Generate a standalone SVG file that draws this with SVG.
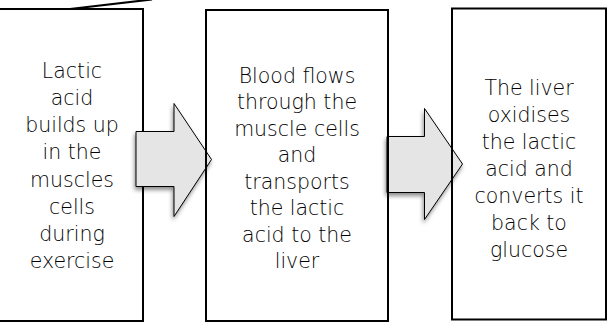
<svg xmlns="http://www.w3.org/2000/svg" width="614" height="324" viewBox="0 0 614 324">
<style>
.box{fill:none;stroke:#000;stroke-width:2}
.lbl{font-family:"DejaVu Sans ExtraLight","DejaVu Sans","Liberation Sans",sans-serif;font-weight:200;font-size:20.5px;fill:#000;text-anchor:middle}
.arrow{fill:#e5e5e5;stroke:#000;stroke-width:1;stroke-linejoin:miter}
</style>
<defs>
<filter id="sh" x="-20%" y="-20%" width="140%" height="150%">
<feDropShadow dx="-1" dy="3" stdDeviation="2" flood-color="#000" flood-opacity="0.45"/>
</filter>
</defs>
<rect width="614" height="324" fill="#fff"/>
<line x1="70" y1="9" x2="152" y2="-0.5" stroke="#000" stroke-width="2.2"/>
<g id="node1">
<rect class="box" x="-3" y="9" width="146" height="312"/>
<text class="lbl"><tspan x="72" y="78">Lactic</tspan><tspan x="72" y="105">acid</tspan><tspan x="72" y="132">builds up</tspan><tspan x="72" y="159">in the</tspan><tspan x="72" y="187">muscles</tspan><tspan x="72" y="214">cells</tspan><tspan x="72" y="241">during</tspan><tspan x="72" y="268">exercise</tspan></text>
</g>
<g id="connectors">
<path class="arrow" filter="url(#sh)" d="M136 131.5 H174 V103.5 L211.5 159.5 L174 216.5 V186.5 H136 Z"/>
<path class="arrow" filter="url(#sh)" d="M387 136.5 H424.5 V108.5 L462.5 164 L424.5 219.5 V192.5 H387 Z"/>
</g>
<g id="node2">
<rect class="box" x="206" y="10" width="182" height="311"/>
<text class="lbl"><tspan x="297" y="82.5">Blood flows</tspan><tspan x="297" y="109">through the</tspan><tspan x="297" y="135.5">muscle cells</tspan><tspan x="297" y="162">and</tspan><tspan x="297" y="188.5">transports</tspan><tspan x="297" y="215">the lactic</tspan><tspan x="297" y="241.5">acid to the</tspan><tspan x="297" y="268">liver</tspan></text>
</g>
<g id="node3">
<rect class="box" x="452" y="8.5" width="154" height="311"/>
<text class="lbl"><tspan x="529" y="95">The liver</tspan><tspan x="529" y="122">oxidises</tspan><tspan x="529" y="149">the lactic</tspan><tspan x="529" y="176">acid and</tspan><tspan x="529" y="203">converts it</tspan><tspan x="529" y="230">back to</tspan><tspan x="529" y="257">glucose</tspan></text>
</g>
</svg>
